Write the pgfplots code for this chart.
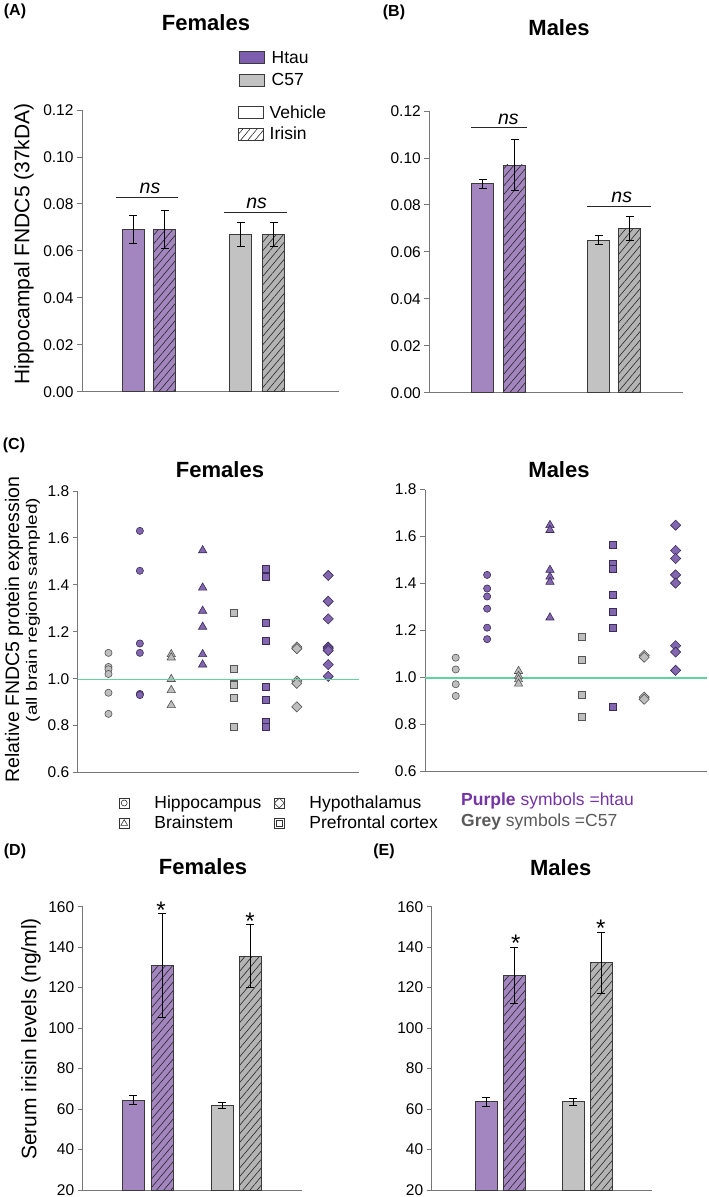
\documentclass[border=0pt]{standalone}
\usepackage{pgfplots}
\pgfplotsset{compat=1.18}
\usepackage{fontspec}
\setmainfont{Liberation Sans}
\usepackage{graphicx}
\usetikzlibrary{patterns.meta}

\definecolor{htaubar}{HTML}{A385BF}
\definecolor{htaukey}{HTML}{7C5DAE}
\definecolor{htaumark}{HTML}{8266B0}
\definecolor{purpedge}{HTML}{3B2B57}
\definecolor{c57bar}{HTML}{C2C2C2}
\definecolor{c57hatch}{HTML}{B4B4B4}
\definecolor{c57mark}{HTML}{BEBEBE}
\definecolor{greyedge}{HTML}{555555}
\definecolor{keyedge}{HTML}{333333}
\definecolor{axisgray}{HTML}{777777}
\definecolor{edge}{HTML}{3A3A3A}
\definecolor{refgreen}{HTML}{5FD49E}
\definecolor{purpletxt}{HTML}{7434A6}
\definecolor{greytxt}{HTML}{5A5A5A}

\newcommand{\fs}[1]{\fontsize{#1bp}{#1bp}\selectfont}

\tikzset{
  hatch/.style={postaction={pattern={Lines[angle=50,distance=5.5bp,line width=0.6bp]}, pattern color=black!85}},
  gmk/.style={draw=greyedge, fill=c57mark},
  pmk/.style={draw=purpedge, fill=htaumark},
  circ/.style={mark=*, mark size=3.6bp, mark options={line width=0.6bp}},
  tri/.style={mark=triangle*, mark size=4.8bp, mark options={line width=0.6bp}},
  sq/.style={mark=square*, mark size=3.5bp, mark options={line width=0.6bp}},
  dia/.style={mark=square*, mark size=3.6bp, mark options={rotate=45, line width=0.6bp}},
  keymk/.style={only marks, draw=keyedge, fill=white},
  nsline/.style={line width=1.1bp, black!85},
}

\pgfplotsset{
  /pgf/number format/assume math mode=true,
  panel/.style={
    scale only axis, anchor=south west, clip=false,
    axis x line*=bottom, axis y line*=left,
    axis line style={draw=axisgray, line width=0.9bp},
    xtick=\empty,
    ytick style={draw=axisgray, line width=0.9bp},
    tick align=outside, major tick length=5bp,
    yticklabel style={font=\fs{15.5}},
  },
  vbar/.style={ybar, bar shift=0pt, bar width=22bp, draw=edge, line width=0.8bp, forget plot},
  errs/.style={/pgfplots/error bars/y dir=both, /pgfplots/error bars/y explicit,
    /pgfplots/error bars/error bar style={line width=0.9bp, black},
    /pgfplots/error bars/error mark options={rotate=90, mark size=4bp, line width=0.9bp, black}},
  pts/.style={only marks, forget plot},
  refline/.style={draw=refgreen, line width=1.3bp, forget plot},
}

\begin{document}
\begin{tikzpicture}
\useasboundingbox (0,0) rectangle (709bp,-1197bp);

% ---------- (A) females, hippocampal FNDC5
\begin{axis}[panel, at={(82bp,-391.7bp)}, width=257bp, height=281.7bp,
  xmin=0, xmax=257, ymin=0, ymax=0.12,
  ytick={0,0.02,0.04,0.06,0.08,0.10,0.12},
  yticklabel style={/pgf/number format/fixed, /pgf/number format/fixed zerofill, /pgf/number format/precision=2},
  legend image code/.code={\draw[#1] (0bp,-6bp) rectangle (25bp,6bp);},
  legend cell align=left,
  legend style={at={(0.607,1.0222)}, anchor=north west, draw=none, fill=none,
    inner sep=0pt, outer sep=0pt, row sep=3.5bp, font=\fs{17.5},
    cells={inner sep=0pt, text height=12.5bp, text depth=0bp},
    /tikz/every odd column/.style={column sep=4bp}}]
\addlegendimage{draw=edge, fill=white, line width=0.7bp}
\addlegendentry{Vehicle}
\addlegendimage{draw=edge, fill=white, line width=0.7bp, hatch}
\addlegendentry{Irisin}
\addplot[vbar, fill=htaubar, errs] coordinates {(51,0.069) +- (0,0.006)};
\addplot[vbar, fill=htaubar, hatch, errs] coordinates {(82.5,0.069) +- (0,0.008)};
\addplot[vbar, fill=c57bar, errs] coordinates {(158.5,0.067) +- (0,0.005)};
\addplot[vbar, fill=c57hatch, hatch, errs] coordinates {(191.5,0.067) +- (0,0.005)};
\draw[nsline] (axis cs:34,0.0829) -- (axis cs:96,0.0829);
\draw[nsline] (axis cs:142,0.0765) -- (axis cs:205,0.0765);
\node[anchor=base, font=\itshape\fs{19.5}, yshift=3.5bp] at (axis cs:68,0.0829) {ns};
\node[anchor=base, font=\itshape\fs{19.5}, yshift=3.5bp] at (axis cs:174.7,0.0765) {ns};
\end{axis}

% genotype key
\begin{axis}[at={(82bp,-391.7bp)}, anchor=south west, scale only axis,
  width=257bp, height=281.7bp, hide axis, xmin=0, xmax=1, ymin=0, ymax=1,
  legend image code/.code={\draw[#1] (0bp,-6bp) rectangle (25bp,6bp);},
  legend cell align=left,
  legend style={at={(0.611,1.2175)}, anchor=north west, draw=none, fill=none,
    inner sep=0pt, outer sep=0pt, row sep=4.5bp, font=\fs{17.5},
    cells={inner sep=0pt, text height=12.5bp, text depth=0bp},
    /tikz/every odd column/.style={column sep=5bp}}]
\addlegendimage{draw=edge, fill=htaukey, line width=0.7bp}
\addlegendentry{Htau}
\addlegendimage{draw=edge, fill=c57bar, line width=0.7bp}
\addlegendentry{C57}
\end{axis}

% ---------- (B) males, hippocampal FNDC5
\begin{axis}[panel, at={(429.3bp,-392.7bp)}, width=253.4bp, height=281.7bp,
  xmin=0, xmax=253.4, ymin=0, ymax=0.12,
  ytick={0,0.02,0.04,0.06,0.08,0.10,0.12},
  yticklabel style={/pgf/number format/fixed, /pgf/number format/fixed zerofill, /pgf/number format/precision=2}]
\addplot[vbar, fill=htaubar, errs] coordinates {(53.2,0.089) +- (0,0.002)};
\addplot[vbar, fill=htaubar, hatch, errs] coordinates {(85.2,0.097) +- (0,0.011)};
\addplot[vbar, fill=c57bar, errs] coordinates {(169.2,0.065) +- (0,0.002)};
\addplot[vbar, fill=c57hatch, hatch, errs] coordinates {(200.2,0.070) +- (0,0.005)};
\draw[nsline] (axis cs:41.7,0.1129) -- (axis cs:97.7,0.1129);
\draw[nsline] (axis cs:157.7,0.0795) -- (axis cs:221.7,0.0795);
\node[anchor=base, font=\itshape\fs{19.5}, yshift=3.5bp] at (axis cs:79,0.1129) {ns};
\node[anchor=base, font=\itshape\fs{19.5}, yshift=3.5bp] at (axis cs:192.4,0.0795) {ns};
\end{axis}

% ---------- (C) females, regional FNDC5
\begin{axis}[panel, at={(77.7bp,-772.5bp)}, width=281.3bp, height=281.5bp,
  xmin=0.02, xmax=8.98, ymin=0.6, ymax=1.8,
  ytick={0.6,0.8,1.0,1.2,1.4,1.6,1.8},
  yticklabel style={/pgf/number format/fixed, /pgf/number format/fixed zerofill, /pgf/number format/precision=1}]
\addplot[pts, gmk, circ] coordinates {(1,1.11) (1,1.05) (1,1.04) (1,1.02) (1,0.94) (1,0.85)};
\addplot[pts, pmk, circ] coordinates {(2,1.63) (2,1.46) (2,1.15) (2,1.11) (2,0.935) (2,0.93)};
\addplot[pts, gmk, tri] coordinates {(3,1.104) (3,1.09) (3,0.998) (3,0.951) (3,0.887)};
\addplot[pts, pmk, tri] coordinates {(4,1.547) (4,1.388) (4,1.289) (4,1.221) (4,1.104) (4,1.06)};
\addplot[pts, gmk, sq] coordinates {(5,1.28) (5,1.04) (5,0.98) (5,0.975) (5,0.92) (5,0.795)};
\addplot[pts, pmk, sq] coordinates {(6,1.47) (6,1.435) (6,1.24) (6,1.16) (6,0.965) (6,0.91) (6,0.815) (6,0.795)};
\addplot[pts, gmk, dia] coordinates {(7,1.135) (7,1.128) (7,0.99) (7,0.98) (7,0.88)};
\addplot[pts, pmk, dia] coordinates {(8,1.44) (8,1.33) (8,1.255) (8,1.135) (8,1.128) (8,1.12) (8,1.06) (8,1.01)};
\end{axis}

% brain-region key
\begin{axis}[at={(77.7bp,-772.5bp)}, anchor=south west, scale only axis,
  width=281.3bp, height=281.5bp, hide axis, xmin=0, xmax=1, ymin=0, ymax=1,
  legend image code/.code={\path (-5bp,-5bp) rectangle (5bp,5bp); \draw[#1] plot coordinates {(0bp,0bp)};},
  legend columns=2, legend cell align=left,
  legend style={at={(0.1468,-0.0764)}, anchor=north west, draw=none, fill=none,
    inner sep=0pt, outer sep=0pt, row sep=2.5bp, font=\fs{17.5},
    cells={inner sep=0pt, text height=12.5bp, text depth=0bp},
    /tikz/every odd column/.style={column sep=23bp},
    /tikz/every even column/.style={column sep=10.7bp}}]
\addlegendimage{keymk, mark=*, mark size=3bp, mark options={line width=0.6bp, fill=white}}
\addlegendentry{Hippocampus}
\addlegendimage{keymk, mark=square*, mark size=3.5bp, mark options={rotate=45, line width=0.6bp, fill=white}}
\addlegendentry{Hypothalamus}
\addlegendimage{keymk, mark=triangle*, mark size=3.9bp, mark options={line width=0.6bp, fill=white}}
\addlegendentry{Brainstem}
\addlegendimage{keymk, mark=square*, mark size=3bp, mark options={line width=0.6bp, fill=white}}
\addlegendentry{Prefrontal cortex}
\end{axis}

% ---------- (C) males, regional FNDC5
\begin{axis}[panel, at={(425bp,-771bp)}, width=281.7bp, height=281.5bp,
  xmin=0.022, xmax=8.99, ymin=0.6, ymax=1.8,
  ytick={0.6,0.8,1.0,1.2,1.4,1.6,1.8},
  yticklabel style={/pgf/number format/fixed, /pgf/number format/fixed zerofill, /pgf/number format/precision=1}]
\addplot[refline] coordinates {(0.022,0.997) (8.99,0.997)};
\addplot[pts, gmk, circ] coordinates {(1,1.083) (1,1.033) (1,0.97) (1,0.92)};
\addplot[pts, pmk, circ] coordinates {(2,1.436) (2,1.378) (2,1.344) (2,1.292) (2,1.211) (2,1.162)};
\addplot[pts, gmk, tri] coordinates {(3,1.026) (3,1.005) (3,0.99) (3,0.972)};
\addplot[pts, pmk, tri] coordinates {(4,1.648) (4,1.627) (4,1.457) (4,1.428) (4,1.406) (4,1.254)};
\addplot[pts, gmk, sq] coordinates {(5,1.17) (5,1.073) (5,0.927) (5,0.829)};
\addplot[pts, pmk, sq] coordinates {(6,1.565) (6,1.485) (6,1.463) (6,1.351) (6,1.277) (6,1.209) (6,0.873)};
\addplot[pts, gmk, dia] coordinates {(7,1.093) (7,1.085) (7,0.915) (7,0.906)};
\addplot[pts, pmk, dia] coordinates {(8,1.648) (8,1.54) (8,1.506) (8,1.436) (8,1.401) (8,1.134) (8,1.107) (8,1.029)};
\end{axis}

% ---------- (D) females, serum irisin
\begin{axis}[panel, clip=true, clip mode=individual, at={(82.7bp,-1190bp)}, width=219.6bp, height=283.3bp,
  xmin=0, xmax=219.6, ymin=20, ymax=160,
  ytick={20,40,60,80,100,120,140,160}]
\addplot[vbar, fill=htaubar, errs] coordinates {(50.3,64.5) +- (0,2)};
\addplot[vbar, fill=htaubar, hatch, errs] coordinates {(79.3,131) +- (0,25.5)};
\addplot[vbar, fill=c57bar, errs] coordinates {(139.3,62) +- (0,1.5)};
\addplot[vbar, fill=c57hatch, hatch, errs] coordinates {(167.6,135.5) +- (0,15.5)};
\node[anchor=base, font=\fs{24}, yshift=-4.5bp] at (axis cs:78.3,156.5) {*};
\node[anchor=base, font=\fs{24}, yshift=-4.5bp] at (axis cs:167.3,151) {*};
\end{axis}

% ---------- (E) males, serum irisin
\begin{axis}[panel, clip=true, clip mode=individual, at={(431.7bp,-1190bp)}, width=220bp, height=283.3bp,
  xmin=0, xmax=220, ymin=20, ymax=160,
  ytick={20,40,60,80,100,120,140,160}]
\addplot[vbar, fill=htaubar, errs] coordinates {(54.3,63.7) +- (0,2.2)};
\addplot[vbar, fill=htaubar, hatch, errs] coordinates {(82.6,126) +- (0,14)};
\addplot[vbar, fill=c57bar, errs] coordinates {(141.3,63.6) +- (0,1.6)};
\addplot[vbar, fill=c57hatch, hatch, errs] coordinates {(169.6,132.3) +- (0,15)};
\node[anchor=base, font=\fs{24}, yshift=-4.5bp] at (axis cs:84,140) {*};
\node[anchor=base, font=\fs{24}, yshift=-4.5bp] at (axis cs:169,147.3) {*};
\end{axis}

% ---------- (C) females: reference line at 1.0, drawn last on its own axis
\begin{axis}[at={(77.7bp,-772.5bp)}, anchor=south west, scale only axis,
  width=281.3bp, height=281.5bp, hide axis, clip=false,
  xmin=0.02, xmax=8.98, ymin=0.6, ymax=1.8]
\addplot[refline] coordinates {(0.02,0.996) (8.98,0.996)};
\end{axis}

% ---------- titles, panel letters, axis labels
\begin{scope}[every node/.style={inner sep=0pt}]
\node[font=\bfseries\fs{22}] at (206bp,-23bp) {Females};
\node[font=\bfseries\fs{22}] at (559bp,-28bp) {Males};
\node[font=\bfseries\fs{22}] at (220bp,-470bp) {Females};
\node[font=\bfseries\fs{22}] at (559bp,-470bp) {Males};
\node[font=\bfseries\fs{22}] at (203bp,-866.7bp) {Females};
\node[font=\bfseries\fs{22}] at (560.7bp,-868bp) {Males};

\node[font=\bfseries\fs{16}] at (15bp,-11.7bp) {(A)};
\node[font=\bfseries\fs{16}] at (394bp,-12bp) {(B)};
\node[font=\bfseries\fs{16}] at (14bp,-445bp) {(C)};
\node[font=\bfseries\fs{16}] at (15bp,-851bp) {(D)};
\node[font=\bfseries\fs{16}] at (384bp,-851bp) {(E)};

\node[rotate=90, font=\fs{21}] at (24bp,-244bp) {Hippocampal FNDC5 (37kDA)};
\node[rotate=90, font=\fs{19.5}] at (14bp,-629.5bp) {Relative FNDC5 protein expression};
\node[rotate=90, font=\fs{15}] at (33bp,-610bp) {\scalebox{1.27}[1]{(all brain regions sampled)}};
\node[rotate=90, font=\fs{21}] at (31bp,-1039bp) {Serum irisin levels (ng/ml)};

\node[anchor=base west, font=\fs{17.5}, text=purpletxt] at (461bp,-805bp) {\textbf{Purple} symbols =htau};
\node[anchor=base west, font=\fs{17.5}, text=greytxt] at (461bp,-826bp) {\textbf{Grey} symbols =C57};
\end{scope}
\end{tikzpicture}
\end{document}
